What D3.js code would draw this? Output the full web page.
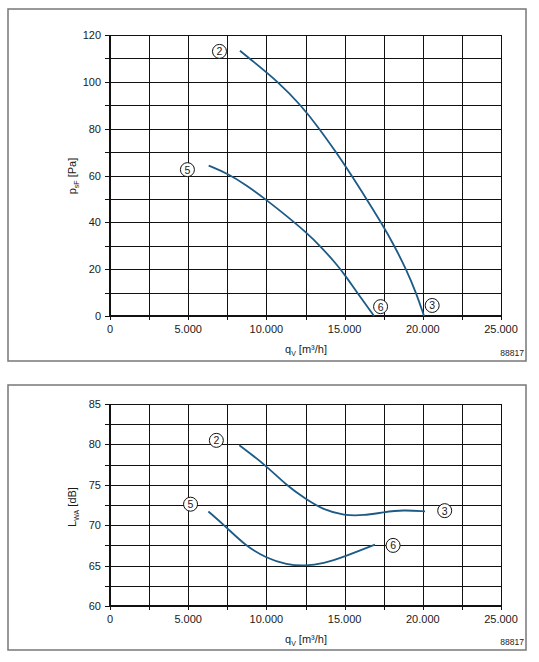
<!DOCTYPE html>
<html>
<head>
<meta charset="utf-8">
<script src="https://cdn.jsdelivr.net/npm/d3@7"></script>
<style>
body { margin: 0; background: #fff; }
svg text { font-family: "Liberation Sans", Arial, sans-serif; fill: #1a1a1a; }
</style>
</head>
<body>
<svg id="chart" width="539" height="662"></svg>
<script>
//////////////////// DATA ////////////////////
const xTicks = [0, 5000, 10000, 15000, 20000, 25000];
const xTickLabels = ["0", "5.000", "10.000", "15.000", "20.000", "25.000"];
const pTicks = [0, 20, 40, 60, 80, 100, 120];
const lTicks = [60, 65, 70, 75, 80, 85];

// pressure curves
const pCurve2 = [[8310, 113.3], [8910, 110], [10760, 100], [12210, 90], [13390, 80], [14450, 70], [15450, 60], [16400, 50], [17330, 40], [18180, 30], [18930, 20], [19570, 10], [20080, 0]];
const pCurve5 = [[6310, 64.2], [7500, 60.9], [8700, 56], [10000, 49.6], [11200, 43.2], [12500, 36], [13500, 29.5], [14500, 22], [15000, 17.7], [15800, 10], [16880, 0]];

// sound power curves
const lCurve2 = [[8270, 79.9], [9910, 77.5], [11300, 74.9], [12470, 73.3], [13640, 71.9], [14980, 71.2], [16200, 71.2], [17480, 71.6], [18750, 71.9], [20140, 71.7]];
const lCurve5 = [[6290, 71.7], [7420, 69.8], [8630, 67.5], [10020, 65.9], [11300, 65.1], [12470, 64.95], [13640, 65.25], [14980, 66.1], [16940, 67.6]];

// curve labels
const pMarkers = [{ t: "2", x: 7000, y: 113 }, { t: "5", x: 4950, y: 62.5 }, { t: "6", x: 17300, y: 4 }, { t: "3", x: 20600, y: 4.5 }];
const lMarkers = [{ t: "2", x: 6800, y: 80.5 }, { t: "5", x: 5150, y: 72.6 }, { t: "3", x: 21400, y: 71.8 }, { t: "6", x: 18100, y: 67.5 }];

//////////////////// SETUP ////////////////////
const svg = d3.select("#chart");
const lineColor = "#1d5b87";

function drawPanel(cfg) {
    const g = svg.append("g");

    // frame
    g.append("rect")
        .attr("x", cfg.frame[0]).attr("y", cfg.frame[1])
        .attr("width", cfg.frame[2]).attr("height", cfg.frame[3])
        .attr("fill", "none").attr("stroke", "#777").attr("stroke-width", 1.5);

    const x = d3.scaleLinear().domain([0, 25000]).range([110, 501]);
    const y = d3.scaleLinear().domain(cfg.yDomain).range(cfg.yRange);

    // grid
    const xGrid = d3.range(0, 25001, 2500);
    const yGrid = d3.range(cfg.yDomain[0], cfg.yDomain[1] + 0.001, cfg.yStep / 2);
    g.selectAll(".vg").data(xGrid).enter().append("line")
        .attr("x1", d => Math.round(x(d)) + 0.5).attr("x2", d => Math.round(x(d)) + 0.5)
        .attr("y1", cfg.yRange[1]).attr("y2", cfg.yRange[0] + 4)
        .attr("stroke", "#111").attr("stroke-width", 1);
    g.selectAll(".hg").data(yGrid).enter().append("line")
        .attr("y1", d => Math.round(y(d)) + 0.5).attr("y2", d => Math.round(y(d)) + 0.5)
        .attr("x1", 105).attr("x2", 501)
        .attr("stroke", "#111").attr("stroke-width", 1);

    // thicker axis lines
    g.append("line").attr("x1", 110).attr("x2", 110)
        .attr("y1", cfg.yRange[1]).attr("y2", cfg.yRange[0] + 1)
        .attr("stroke", "#111").attr("stroke-width", 2);
    g.append("line").attr("x1", 109).attr("x2", 501)
        .attr("y1", cfg.yRange[0]).attr("y2", cfg.yRange[0])
        .attr("stroke", "#111").attr("stroke-width", 2);

    // tick labels
    g.selectAll(".xl").data(xTicks).enter().append("text")
        .attr("x", d => x(d)).attr("y", cfg.yRange[0] + 17)
        .attr("text-anchor", "middle").attr("font-size", 11)
        .text((d, i) => xTickLabels[i]);
    g.selectAll(".yl").data(cfg.yTicks).enter().append("text")
        .attr("x", 101).attr("y", d => y(d) + 4)
        .attr("text-anchor", "end").attr("font-size", 11)
        .text(d => d);

    // axis titles
    const xt = g.append("text")
        .attr("x", 306).attr("y", cfg.yRange[0] + 37)
        .attr("text-anchor", "middle").attr("font-size", 11);
    xt.append("tspan").text("q");
    xt.append("tspan").attr("font-size", 7).attr("dy", 3).text("V");
    xt.append("tspan").attr("dy", -3).text(" [m³/h]");

    const yt = g.append("text")
        .attr("transform", `translate(76, ${cfg.yTitleY}) rotate(-90)`)
        .attr("text-anchor", "middle").attr("font-size", 11);
    yt.append("tspan").text(cfg.yTitle[0]);
    yt.append("tspan").attr("font-size", 7).attr("dy", 3).text(cfg.yTitle[1]);
    yt.append("tspan").attr("dy", -3).text(cfg.yTitle[2]);

    g.append("text")
        .attr("x", 524).attr("y", cfg.codeY)
        .attr("text-anchor", "end").attr("font-size", 8.5)
        .text("88817");

    // curves (basis spline smooths the read-off points)
    const line = d3.line()
        .x(d => x(d[0])).y(d => y(d[1]))
        .curve(d3.curveBasis);
    g.selectAll(".curve").data(cfg.curves).enter().append("path")
        .attr("d", d => line(d))
        .attr("fill", "none").attr("stroke", lineColor).attr("stroke-width", 1.8);

    // curve markers
    const m = g.selectAll(".marker").data(cfg.markers).enter().append("g")
        .attr("transform", d => `translate(${x(d.x)}, ${y(d.y)})`);
    m.append("circle").attr("r", 7).attr("fill", "#fff")
        .attr("stroke", "#111").attr("stroke-width", 1);
    m.append("text").attr("text-anchor", "middle").attr("y", 4)
        .attr("font-size", 10.5).text(d => d.t);
}

drawPanel({
    frame: [8, 9, 518, 352],
    yDomain: [0, 120], yRange: [316, 35], yStep: 20, yTicks: pTicks,
    yTitle: ["p", "sF", " [Pa]"], yTitleY: 176, codeY: 356,
    curves: [pCurve2, pCurve5], markers: pMarkers
});

drawPanel({
    frame: [8, 385, 518, 265],
    yDomain: [60, 85], yRange: [606, 404], yStep: 5, yTicks: lTicks,
    yTitle: ["L", "WA", " [dB]"], yTitleY: 507, codeY: 645,
    curves: [lCurve2, lCurve5], markers: lMarkers
});
</script>
</body>
</html>
